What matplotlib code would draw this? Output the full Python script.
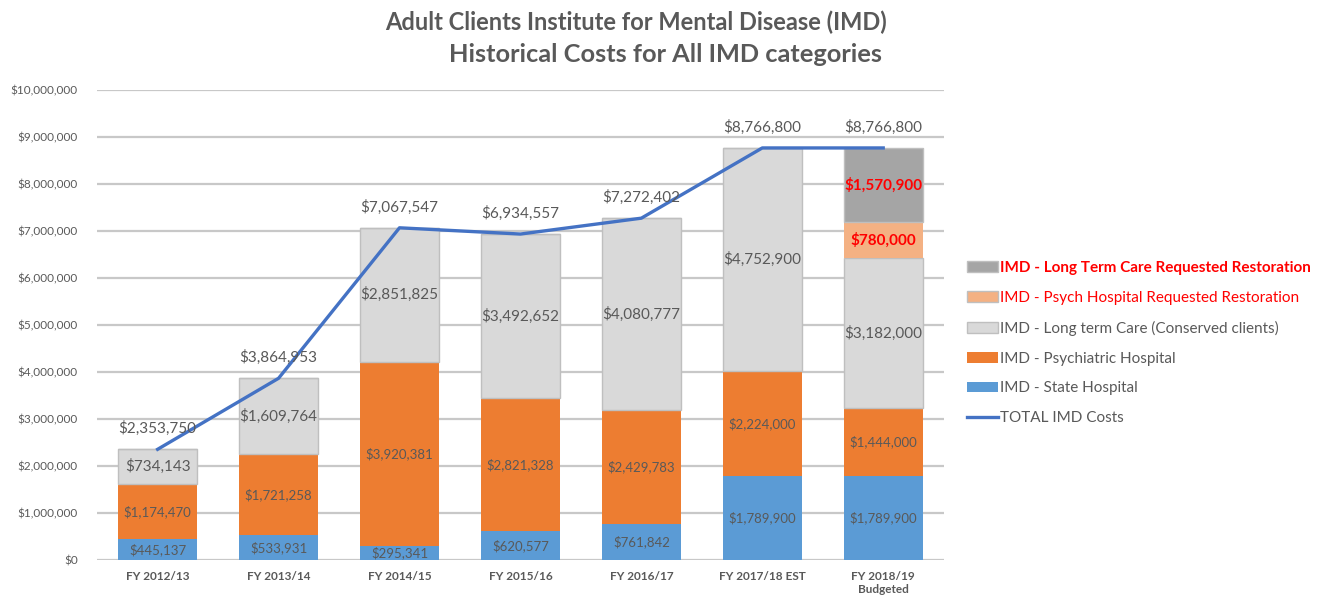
import numpy as np
import matplotlib.pyplot as plt
from matplotlib.patches import Patch
from matplotlib.lines import Line2D
from matplotlib.ticker import FuncFormatter

plt.rcParams['font.family'] = ['Lato', 'DejaVu Sans']

# data
years = ['FY 2012/13', 'FY 2013/14', 'FY 2014/15', 'FY 2015/16', 'FY 2016/17',
         'FY 2017/18 EST', 'FY 2018/19\nBudgeted']
state_hosp = [445137, 533931, 295341, 620577, 761842, 1789900, 1789900]
psych_hosp = [1174470, 1721258, 3920381, 2821328, 2429783, 2224000, 1444000]
long_term = [734143, 1609764, 2851825, 3492652, 4080777, 4752900, 3182000]
psych_restore = [0, 0, 0, 0, 0, 0, 780000]
ltc_restore = [0, 0, 0, 0, 0, 0, 1570900]
total_cost = [2353750, 3864953, 7067547, 6934557, 7272402, 8766800, 8766800]

c_blue = '#5B9BD5'
c_orange = '#ED7D31'
c_grey = '#D9D9D9'
c_dgrey = '#A5A5A5'
c_lorange = '#F4B183'
c_line = '#4472C4'
c_text = '#595959'
c_red = '#FF0000'

fig = plt.figure(figsize=(13.31, 6.04), dpi=100)
ax = fig.add_axes([0.073, 0.073, 0.636, 0.778])

x = np.arange(len(years))
w = 0.65
money = lambda v: '${:,.0f}'.format(v)

b0 = np.zeros(len(x))
segs = [
    (state_hosp, c_blue, 'none', 9.5, c_text, 'normal'),
    (psych_hosp, c_orange, 'none', 9.5, c_text, 'normal'),
    (long_term, c_grey, '#BFBFBF', 11, c_text, 'normal'),
    (psych_restore, c_lorange, 'none', 11, c_red, 'bold'),
    (ltc_restore, c_dgrey, '#BFBFBF', 11, c_red, 'bold'),
]
for vals, col, ec, fs, tc, fw in segs:
    vals = np.array(vals, dtype=float)
    ax.bar(x, vals, w, bottom=b0, color=col, edgecolor=ec, linewidth=1, zorder=2)
    for i, v in enumerate(vals):
        if v > 0:
            ax.text(x[i], b0[i] + v / 2, money(v), ha='center', va='center',
                    fontsize=fs, color=tc, fontweight=fw, zorder=4)
    b0 += vals

ax.plot(x, total_cost, color=c_line, lw=2.4, zorder=3)
for i, v in enumerate(total_cost):
    ax.annotate(money(v), (x[i], v), xytext=(0, 15), textcoords='offset points',
                ha='center', va='center', fontsize=11, color=c_text, zorder=4)

ax.set_xlim(-0.5, len(x) - 0.5)
ax.set_ylim(0, 10000000)
ax.set_yticks(np.arange(0, 10000001, 1000000))
ax.yaxis.set_major_formatter(FuncFormatter(lambda v, p: money(v)))
ax.set_xticks(x)
ax.set_xticklabels(years, fontweight='bold')
ax.tick_params(axis='y', length=0, labelsize=8.5, labelcolor=c_text, pad=14)
ax.tick_params(axis='x', length=0, labelsize=8.5, labelcolor=c_text, pad=8)
ax.grid(axis='y', color='#C8C8C8', lw=1.6, zorder=0)
ax.set_axisbelow(True)
for s in ax.spines.values():
    s.set_visible(False)

fig.text(0.478, 0.963, 'Adult Clients Institute for Mental Disease (IMD)', ha='center',
         va='center', fontsize=17, fontweight='bold', color=c_text)
fig.text(0.5, 0.91, 'Historical Costs for All IMD categories', ha='center',
         va='center', fontsize=18.3, fontweight='bold', color=c_text)

handles = [
    Patch(facecolor=c_dgrey, edgecolor='#BFBFBF'),
    Patch(facecolor=c_lorange, edgecolor='#BFBFBF'),
    Patch(facecolor=c_grey, edgecolor='#BFBFBF'),
    Patch(facecolor=c_orange, edgecolor='none'),
    Patch(facecolor=c_blue, edgecolor='none'),
    Line2D([], [], color=c_line, lw=2.4),
]
labels = ['IMD - Long Term Care Requested Restoration',
          'IMD - Psych Hospital Requested Restoration',
          'IMD - Long term Care (Conserved clients)',
          'IMD - Psychiatric Hospital',
          'IMD - State Hospital',
          'TOTAL IMD Costs']
leg = fig.legend(handles, labels, loc='center left', bbox_to_anchor=(0.722, 0.432),
                 frameon=False, fontsize=11, labelspacing=1.04, handlelength=2.0,
                 handleheight=0.7, handletextpad=0.15, borderaxespad=0)
for i, t in enumerate(leg.get_texts()):
    t.set_color(c_red if i < 2 else c_text)
    if i == 0:
        t.set_fontweight('bold')

fig.savefig('out.png', dpi=100)
